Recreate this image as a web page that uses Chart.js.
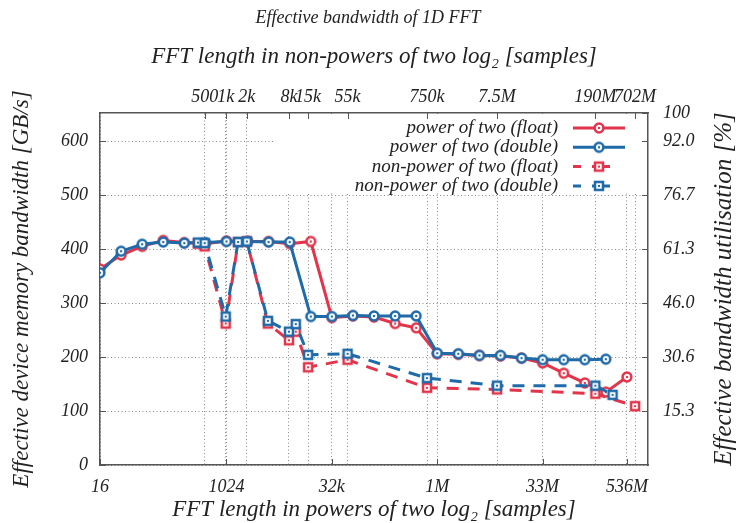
<!DOCTYPE html>
<html lang="en">
<head>
  <meta charset="UTF-8" />
  <title>Effective bandwidth of 1D FFT</title>
  <script src="https://cdn.jsdelivr.net/npm/chart.js"></script>
  <style>
    body {
      margin: 0;
      background: #fff;
    }
    canvas {
      display: block;
    }
  </style>
</head>
<body>

<canvas id="chart" width="736" height="523"></canvas>

<script>
// power-of-two lengths, given as log2 exponents
const pow2FloatExp = [4, 5, 6, 7, 8, 9, 10, 11, 12, 13, 14, 15, 16, 17, 18, 19, 20, 21, 22, 23, 24, 25, 26, 27, 28, 29];
const pow2FloatGBs = [363, 389, 405, 416, 412, 410, 415, 414, 414, 410, 414, 273, 276, 274, 262, 254, 206, 205, 203, 202, 198, 189, 170, 152, 135, 163];

const pow2DoubleExp = [4, 5, 6, 7, 8, 9, 10, 11, 12, 13, 14, 15, 16, 17, 18, 19, 20, 21, 22, 23, 24, 25, 26, 27, 28];
const pow2DoubleGBs = [356, 396, 409, 413, 411, 412, 414, 414, 413, 413, 275, 275, 277, 276, 276, 276, 207, 206, 203, 203, 198, 195, 195, 195, 196];

// non-power-of-two lengths, in samples
const nonPowFloatLen = [400, 500, 1000, 1500, 2000, 4000, 8000, 10000, 15000, 55000, 750000, 7500000, 190000000, 702000000];
const nonPowFloatGBs = [410, 405, 262, 413, 414, 262, 231, 247, 181, 195, 143, 140, 132, 109];

const nonPowDoubleLen = [400, 500, 1000, 1500, 2000, 4000, 8000, 10000, 15000, 55000, 750000, 7500000, 190000000, 335000000];
const nonPowDoubleGBs = [412, 411, 275, 413, 414, 267, 247, 261, 204, 206, 161, 147, 147, 130];

// axes
const bottomTickExp = [4, 10, 15, 20, 25, 29];
const bottomTickLabels = ['16', '1024', '32k', '1M', '33M', '536M'];
const topTickLengths = [500, 1000, 2000, 8000, 15000, 55000, 750000, 7500000, 190000000, 702000000];
const topTickLabels = ['500', '1k', '2k', '8k', '15k', '55k', '750k', '7.5M', '190M', '702M'];
const leftTickGBs = [0, 100, 200, 300, 400, 500, 600];
const rightTickGBs = [100, 200, 300, 400, 500, 600, 652];
const rightTickLabels = ['15.3', '30.6', '46.0', '61.3', '76.7', '92.0', '100'];
const peakGBs = 652;

const RED = '#e2344a';
const BLUE = '#1f6aa8';
const SERIF = "'Liberation Serif', 'Times New Roman', serif";
const TEXT = '#222';
const GRID = '#8a8a8a';
const FRAME = '#555';

function makeMarker(color, shape) {
  const c = document.createElement('canvas');
  c.width = 14; c.height = 14;
  const g = c.getContext('2d');
  g.lineWidth = 2.5;
  g.strokeStyle = color;
  g.fillStyle = '#fff';
  if (shape === 'circle') {
    g.beginPath();
    g.arc(7, 7, 4.4, 0, Math.PI * 2);
    g.fill();
    g.stroke();
    g.fillStyle = color;
    g.beginPath();
    g.arc(7, 7, 1.2, 0, Math.PI * 2);
    g.fill();
  } else {
    g.fillRect(3, 3, 8, 8);
    g.strokeRect(3, 3, 8, 8);
    g.fillStyle = color;
    g.fillRect(6, 6, 2, 2);
  }
  return c;
}

function series(label, xs, ys, toExp, color, shape, dashed, order) {
  return {
    label,
    data: xs.map((x, i) => ({ x: toExp(x), y: ys[i] })),
    borderColor: color,
    backgroundColor: color,
    borderWidth: 3,
    borderDash: dashed ? [12, 9] : [],
    pointStyle: makeMarker(color, shape),
    pointRadius: 5,
    tension: 0,
    fill: false,
    order,
    _shape: shape,
    _dashed: dashed
  };
}

const keepExp = v => v;

const datasets = [
  series('power of two (float)', pow2FloatExp, pow2FloatGBs, keepExp, RED, 'circle', false, 3),
  series('power of two (double)', pow2DoubleExp, pow2DoubleGBs, keepExp, BLUE, 'circle', false, 2),
  series('non-power of two (float)', nonPowFloatLen, nonPowFloatGBs, Math.log2, RED, 'square', true, 1),
  series('non-power of two (double)', nonPowDoubleLen, nonPowDoubleGBs, Math.log2, BLUE, 'square', true, 0)
];

const gridOpts = { drawTicks: false, color: GRID, lineWidth: 1 };
const borderOpts = { display: true, color: FRAME, width: 1.5, dash: [1, 2.5] };
const tickFont = { family: SERIF, size: 18, style: 'italic' };
const titleFont = { family: SERIF, size: 23, style: 'italic', lineHeight: 1.1 };

// white legend box, inner tick marks, legend and right-hand title
const framePlugin = {
  id: 'framePlugin',
  beforeDatasetsDraw(chart) {
    const { ctx, chartArea: a, scales } = chart;
    ctx.save();
    ctx.fillStyle = '#fff';
    ctx.fillRect(273, a.top + 1, a.right - 274, 193 - a.top - 1);

    ctx.strokeStyle = FRAME;
    ctx.lineWidth = 1;
    ctx.beginPath();
    scales.x.ticks.forEach(t => {
      const px = Math.round(scales.x.getPixelForValue(t.value)) + 0.5;
      ctx.moveTo(px, a.bottom); ctx.lineTo(px, a.bottom - 6);
    });
    scales.x2.ticks.forEach(t => {
      const px = Math.round(scales.x2.getPixelForValue(t.value)) + 0.5;
      ctx.moveTo(px, a.top); ctx.lineTo(px, a.top + 6);
    });
    scales.y.ticks.forEach(t => {
      const py = Math.round(scales.y.getPixelForValue(t.value)) + 0.5;
      ctx.moveTo(a.left, py); ctx.lineTo(a.left + 6, py);
    });
    scales.y2.ticks.forEach(t => {
      const py = Math.round(scales.y2.getPixelForValue(t.value)) + 0.5;
      ctx.moveTo(a.right, py); ctx.lineTo(a.right - 6, py);
    });
    ctx.stroke();
    ctx.restore();
  },
  afterDraw(chart) {
    const { ctx, chartArea: a } = chart;
    ctx.save();

    // legend
    ctx.font = `italic 19px ${SERIF}`;
    ctx.textAlign = 'right';
    ctx.textBaseline = 'middle';
    chart.data.datasets.forEach((ds, i) => {
      const y = 128 + i * 19.3;
      ctx.fillStyle = TEXT;
      ctx.fillText(ds.label, 558, y);
      ctx.strokeStyle = ds.borderColor;
      ctx.lineWidth = 3;
      ctx.beginPath();
      if (ds._dashed) {
        ctx.moveTo(573, y); ctx.lineTo(581, y);
        ctx.moveTo(592, y); ctx.lineTo(610, y);
      } else {
        ctx.moveTo(573, y); ctx.lineTo(625, y);
      }
      ctx.stroke();
      ctx.drawImage(ds.pointStyle, 599 - 7, y - 7);
    });

    // right axis title, reading bottom to top like the left one
    ctx.translate(724, (a.top + a.bottom) / 2);
    ctx.rotate(-Math.PI / 2);
    ctx.font = `italic 25px ${SERIF}`;
    ctx.textAlign = 'center';
    ctx.fillStyle = TEXT;
    ctx.fillText('Effective bandwidth utilisation [%]', 0, 0);
    ctx.restore();
  }
};

new Chart(document.getElementById('chart'), {
  type: 'line',
  data: { datasets },
  options: {
    responsive: false,
    animation: false,
    devicePixelRatio: 1,
    layout: { padding: 0 },
    plugins: {
      legend: { display: false },
      tooltip: { enabled: false },
      title: {
        display: true,
        text: 'Effective bandwidth of 1D FFT',
        color: TEXT,
        font: { family: SERIF, size: 18, style: 'italic', weight: 'normal' },
        padding: { top: 7, bottom: 0 }
      }
    },
    scales: {
      x: {
        type: 'linear',
        position: 'bottom',
        min: 4,
        max: 30,
        afterBuildTicks: s => { s.ticks = bottomTickExp.map(v => ({ value: v })); },
        afterFit: s => { s.height = 58; },
        ticks: {
          autoSkip: false, maxRotation: 0, minRotation: 0, padding: 11,
          color: TEXT, font: tickFont,
          callback: (v, i) => bottomTickLabels[i]
        },
        grid: gridOpts,
        border: borderOpts,
        title: {
          display: true, text: 'FFT length in powers of two log\u2082 [samples]',
          color: TEXT, font: titleFont, padding: { top: 0, bottom: 0 }
        }
      },
      x2: {
        type: 'linear',
        position: 'top',
        min: 4,
        max: 30,
        afterBuildTicks: s => { s.ticks = topTickLengths.map(n => ({ value: Math.log2(n) })); },
        afterFit: s => { s.height = 84.4; },
        ticks: {
          autoSkip: false, maxRotation: 0, minRotation: 0, padding: 5,
          color: TEXT, font: tickFont,
          callback: (v, i) => topTickLabels[i]
        },
        grid: gridOpts,
        border: borderOpts,
        title: {
          display: true, text: 'FFT length in non-powers of two log\u2082 [samples]',
          color: TEXT, font: titleFont, padding: { top: 16, bottom: 0 }
        }
      },
      y: {
        position: 'left',
        min: 0,
        max: peakGBs,
        afterBuildTicks: s => { s.ticks = leftTickGBs.map(v => ({ value: v })); },
        afterFit: s => { s.width = 100; },
        ticks: { padding: 12, color: TEXT, font: tickFont, callback: v => String(v) },
        grid: gridOpts,
        border: borderOpts,
        title: {
          display: true, text: 'Effective device memory bandwidth [GB/s]',
          color: TEXT, font: titleFont, padding: { top: 9, bottom: 0 }
        }
      },
      y2: {
        position: 'right',
        min: 0,
        max: peakGBs,
        afterBuildTicks: s => { s.ticks = rightTickGBs.map(v => ({ value: v })); },
        afterFit: s => { s.width = 88; },
        ticks: { padding: 15, color: TEXT, font: tickFont, callback: (v, i) => rightTickLabels[i] },
        grid: { display: false, drawTicks: false },
        border: { display: true, color: FRAME, width: 1.5 }
      }
    }
  },
  plugins: [framePlugin]
});
</script>

</body>
</html>
